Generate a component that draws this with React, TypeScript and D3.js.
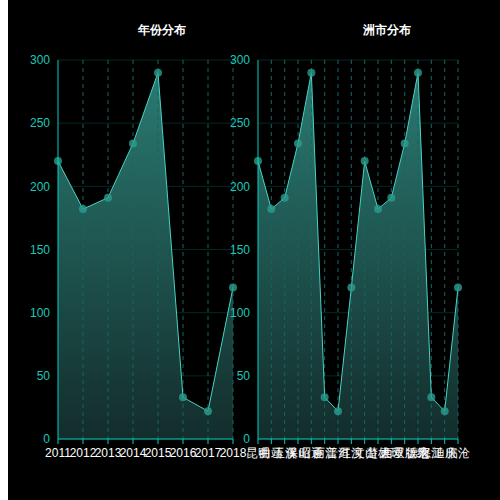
import React from 'react';
import * as d3 from 'd3';

const years = ['2011', '2012', '2013', '2014', '2015', '2016', '2017', '2018'];
const yearValues = [220, 182, 191, 234, 290, 33, 22, 120];

const cities = ['昆明', '曲靖', '玉溪', '保山', '昭通', '丽江', '普洱', '红河', '文山', '楚雄', '大理', '西双版纳', '德宏', '怒江', '迪庆', '临沧'];
const cityValues = [220, 182, 191, 234, 290, 33, 22, 120, 220, 182, 191, 234, 290, 33, 22, 120];

const yTicks = [0, 50, 100, 150, 200, 250, 300];

const W = 492;
const H = 500;
const top = 60;
const bottom = 439;

const axisColor = '#00d2c2';
const labelColor = '#19c8b9';
const font = 'sans-serif';

interface PanelProps {
  id: string;
  title: string;
  titleX: number;
  x0: number;
  x1: number;
  categories: string[];
  values: number[];
}

function Panel({ id, title, titleX, x0, x1, categories, values }: PanelProps) {
  const x = d3.scalePoint<string>().domain(categories).range([x0, x1]);
  const y = d3.scaleLinear().domain([0, 300]).range([bottom, top]);

  const pts = categories.map((c, i) => ({ c, v: values[i] }));

  const area = d3.area<{ c: string; v: number }>()
    .x(d => x(d.c) as number)
    .y0(y(0))
    .y1(d => y(d.v));
  const line = d3.line<{ c: string; v: number }>()
    .x(d => x(d.c) as number)
    .y(d => y(d.v));

  const gradTop = y(d3.max(values) as number);

  return (
    <g>
      <defs>
        <linearGradient id={id} gradientUnits="userSpaceOnUse" x1={0} y1={gradTop} x2={0} y2={y(0)}>
          <stop offset="0%" stopColor="#2a7a72" />
          <stop offset="100%" stopColor="#132d2b" />
        </linearGradient>
      </defs>
      <text x={titleX} y={34} fill="#fff" fontSize={12} fontWeight="bold" textAnchor="middle" fontFamily={font}>
        {title}
      </text>
      {/* horizontal grid */}
      {yTicks.map(t => (
        <line key={'h' + t} x1={x0} x2={x1} y1={y(t)} y2={y(t)} stroke="rgba(0,200,180,0.2)" strokeWidth={1} />
      ))}
      <path d={area(pts) || ''} fill={`url(#${id})`} />
      {/* vertical dashed grid */}
      {categories.slice(1).map(c => (
        <line key={'v' + c} x1={x(c)} x2={x(c)} y1={top} y2={bottom} stroke="#14665f" strokeDasharray="4,4" strokeWidth={1} />
      ))}
      <path d={line(pts) || ''} fill="none" stroke="#46d4c4" strokeWidth={1} />
      {pts.map((p, i) => (
        <circle key={'p' + i} cx={x(p.c)} cy={y(p.v)} r={4} fill="#2a9d90" fillOpacity={0.8} />
      ))}
      {/* y axis */}
      <line x1={x0} x2={x0} y1={top} y2={bottom} stroke={axisColor} strokeWidth={1} />
      {yTicks.map(t => (
        <text key={'yl' + t} x={x0 - 8} y={y(t)} dy="0.35em" fill={labelColor} fontSize={12} textAnchor="end" fontFamily={font}>
          {t}
        </text>
      ))}
      {/* x axis */}
      <line x1={x0} x2={x1} y1={bottom} y2={bottom} stroke={axisColor} strokeWidth={1} />
      {categories.map(c => (
        <line key={'xt' + c} x1={x(c)} x2={x(c)} y1={bottom} y2={bottom + 5} stroke={axisColor} strokeWidth={1} />
      ))}
      {categories.map(c => (
        <text key={'xl' + c} x={x(c)} y={bottom + 18} fill="#fff" fontSize={12} textAnchor="middle" fontFamily={font}>
          {c}
        </text>
      ))}
    </g>
  );
}

export default function App() {
  return (
    <div style={{ position: 'absolute', left: 8, top: 0, width: W, height: H, background: '#000' }}>
      <svg width={W} height={H} style={{ display: 'block' }}>
        <g transform="translate(-8,0)">
          <Panel id="gYear" title="年份分布" titleX={161.5} x0={58} x1={233} categories={years} values={yearValues} />
          <Panel id="gCity" title="洲市分布" titleX={386.5} x0={258} x1={458} categories={cities} values={cityValues} />
        </g>
      </svg>
    </div>
  );
}
